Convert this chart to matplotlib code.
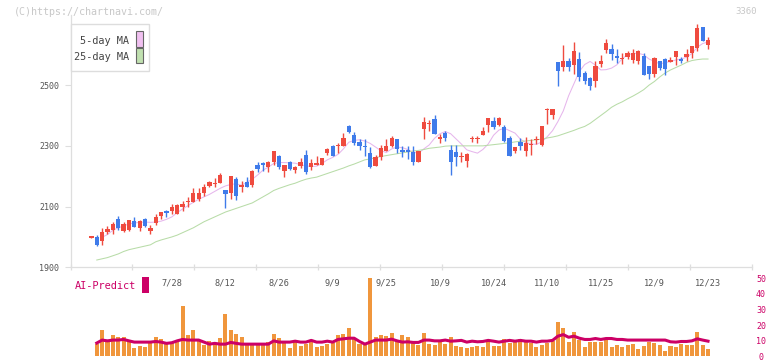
## candlestick chart with AI-Predict panel
import matplotlib
matplotlib.use('Agg')
import matplotlib.pyplot as plt
import numpy as np
from matplotlib.patches import Rectangle

plt.rcParams['font.family'] = ['DejaVu Sans Mono']

# daily prices (open/high/low/close), one per trading day
opens = [1998, 1999, 1985, 2016, 2022, 2059, 2019, 2024, 2052, 2031, 2059, 2021, 2046, 2070, 2082, 2085,
         2077, 2100, 2115, 2116, 2125, 2144, 2167, 2175, 2179, 2154, 2144, 2191, 2166, 2181, 2171, 2237,
         2240, 2229, 2246, 2268, 2218, 2246, 2219, 2235, 2270, 2231, 2238, 2237, 2276, 2300, 2298, 2301,
         2366, 2336, 2313, 2299, 2278, 2235, 2264, 2284, 2298, 2323, 2287, 2287, 2279, 2248, 2357, 2372,
         2389, 2324, 2343, 2287, 2279, 2263, 2250, 2321, 2321, 2336, 2369, 2382, 2369, 2362, 2325, 2283,
         2313, 2283, 2302, 2319, 2303, 2417, 2400, 2575, 2561, 2580, 2567, 2587, 2541, 2524, 2514, 2570,
         2617, 2620, 2597, 2585, 2594, 2583, 2580, 2597, 2564, 2537, 2579, 2587, 2577, 2592, 2587, 2594,
         2605, 2621, 2692, 2633]
highs = [2000, 2005, 2028, 2037, 2050, 2068, 2050, 2057, 2066, 2056, 2061, 2038, 2076, 2083, 2089, 2108,
         2110, 2117, 2131, 2161, 2161, 2175, 2183, 2193, 2210, 2154, 2201, 2198, 2183, 2198, 2220, 2248,
         2248, 2250, 2283, 2270, 2237, 2250, 2235, 2261, 2285, 2256, 2266, 2260, 2292, 2304, 2311, 2341,
         2370, 2344, 2322, 2322, 2296, 2270, 2303, 2323, 2333, 2323, 2298, 2301, 2298, 2283, 2394, 2386,
         2402, 2338, 2349, 2303, 2303, 2279, 2275, 2331, 2331, 2361, 2392, 2394, 2394, 2369, 2332, 2297,
         2327, 2330, 2323, 2334, 2367, 2424, 2421, 2575, 2633, 2589, 2643, 2610, 2545, 2528, 2580, 2600,
         2652, 2636, 2620, 2605, 2612, 2620, 2616, 2605, 2564, 2592, 2579, 2591, 2592, 2613, 2594, 2620,
         2630, 2702, 2692, 2660]
lows = [1997, 1971, 1975, 2011, 2011, 2024, 2016, 2021, 2032, 2021, 2034, 2011, 2038, 2060, 2065, 2077,
        2076, 2087, 2099, 2115, 2120, 2136, 2164, 2164, 2177, 2094, 2126, 2121, 2148, 2163, 2165, 2215,
        2217, 2215, 2237, 2224, 2199, 2221, 2210, 2226, 2207, 2221, 2236, 2237, 2271, 2265, 2278, 2298,
        2342, 2303, 2285, 2268, 2226, 2234, 2255, 2282, 2296, 2278, 2262, 2257, 2237, 2248, 2324, 2349,
        2338, 2311, 2317, 2204, 2235, 2248, 2231, 2312, 2309, 2336, 2347, 2355, 2367, 2314, 2265, 2275,
        2287, 2265, 2270, 2306, 2301, 2371, 2389, 2496, 2545, 2548, 2537, 2512, 2503, 2485, 2495, 2559,
        2605, 2583, 2572, 2570, 2586, 2572, 2568, 2532, 2520, 2528, 2551, 2534, 2575, 2567, 2572, 2581,
        2589, 2611, 2647, 2620]
closes = [1999, 1975, 2016, 2026, 2043, 2029, 2041, 2055, 2034, 2052, 2037, 2029, 2066, 2082, 2080, 2099,
          2106, 2109, 2117, 2145, 2144, 2164, 2180, 2176, 2204, 2143, 2201, 2134, 2167, 2165, 2217, 2224,
          2238, 2248, 2283, 2232, 2237, 2224, 2231, 2247, 2215, 2242, 2240, 2260, 2290, 2268, 2304, 2326,
          2346, 2311, 2301, 2297, 2229, 2264, 2293, 2300, 2326, 2291, 2279, 2279, 2248, 2283, 2379, 2373,
          2338, 2325, 2327, 2248, 2264, 2265, 2272, 2322, 2323, 2349, 2392, 2362, 2392, 2316, 2268, 2297,
          2301, 2311, 2303, 2320, 2367, 2418, 2421, 2548, 2580, 2561, 2613, 2528, 2514, 2498, 2564, 2581,
          2639, 2601, 2591, 2586, 2606, 2606, 2613, 2532, 2537, 2590, 2558, 2554, 2583, 2613, 2581, 2601,
          2630, 2689, 2647, 2649]

# moving averages (None where not drawn)
ma5 = [None, None, 1999, 2008, 2022, 2030, 2036, 2043, 2046, 2048, 2049, 2048, 2049, 2052, 2058, 2066,
       2080, 2092, 2103, 2114, 2124, 2132, 2140, 2150, 2160, 2168, 2173, 2175, 2170, 2180, 2190, 2204,
       2220, 2230, 2242, 2245, 2245, 2244, 2243, 2238, 2234, 2232, 2233, 2242, 2254, 2262, 2272, 2290,
       2312, 2318, 2320, 2316, 2308, 2296, 2284, 2278, 2290, 2296, 2294, 2288, 2279, 2276, 2290, 2303,
       2325, 2340, 2347, 2340, 2323, 2306, 2287, 2281, 2276, 2288, 2306, 2335, 2352, 2358, 2350, 2342,
       2322, 2311, 2306, 2305, 2313, 2330, 2350, 2380, 2415, 2465, 2505, 2545, 2568, 2578, 2566, 2550,
       2551, 2556, 2567, 2587, 2600, 2604, 2605, 2600, 2586, 2578, 2570, 2574, 2578, 2583, 2586, 2592,
       2604, 2625, 2637, 2642]
ma25 = [None, 1924, 1928, 1932, 1938, 1944, 1952, 1958, 1962, 1966, 1970, 1974, 1984, 1990, 1995, 2000,
        2006, 2014, 2022, 2030, 2040, 2050, 2058, 2066, 2074, 2082, 2088, 2094, 2100, 2106, 2112, 2122,
        2132, 2142, 2153, 2160, 2166, 2172, 2177, 2184, 2190, 2194, 2197, 2203, 2209, 2215, 2221, 2227,
        2234, 2240, 2247, 2254, 2257, 2261, 2265, 2268, 2271, 2274, 2277, 2280, 2283, 2285, 2288, 2292,
        2294, 2296, 2299, 2300, 2300, 2300, 2300, 2300, 2300, 2300, 2302, 2304, 2306, 2308, 2310, 2313,
        2315, 2316, 2318, 2320, 2322, 2326, 2329, 2333, 2339, 2345, 2351, 2358, 2364, 2374, 2387, 2400,
        2413, 2427, 2437, 2445, 2455, 2464, 2474, 2485, 2500, 2512, 2527, 2540, 2550, 2558, 2566, 2575,
        2581, 2584, 2586, 2586]

# AI-Predict panel (starts on the second day)
ai_bars = [8.2, 16.7, 10.0, 13.6, 12.3, 12.3, 9.8, 5.4, 6.7, 6.1, 8.6, 12.3, 11.1, 7.9, 8.4, 9.2,
           32.4, 13.6, 16.7, 10.0, 7.5, 9.8, 7.9, 11.7, 27.4, 16.7, 14.2, 12.3, 7.9, 7.9, 7.9, 7.9,
           9.2, 14.2, 11.7, 8.6, 5.4, 9.8, 6.7, 7.9, 9.8, 6.1, 6.7, 7.9, 8.6, 13.6, 14.2, 18.0,
           11.1, 7.9, 7.5, 50.0, 12.3, 13.6, 13.0, 14.9, 9.8, 13.6, 12.3, 8.6, 7.3, 14.9, 7.9, 7.3,
           9.2, 7.9, 12.3, 6.7, 6.1, 5.4, 6.1, 6.7, 6.1, 9.8, 6.7, 6.7, 11.1, 8.6, 9.2, 11.1,
           9.2, 8.6, 6.1, 7.3, 8.6, 9.8, 21.8, 18.0, 9.2, 15.5, 10.5, 6.1, 9.2, 9.2, 9.2, 10.5,
           6.1, 7.3, 6.1, 7.3, 7.9, 4.8, 6.7, 9.2, 8.6, 7.3, 3.6, 6.7, 6.1, 7.9, 7.3, 7.3,
           15.5, 7.3, 4.8]
ai_line = [8.6, 10.5, 10.0, 10.5, 10.5, 10.9, 10.0, 9.2, 9.2, 9.2, 9.2, 9.6, 9.2, 8.4, 8.8, 10.0,
           10.9, 10.5, 10.5, 10.5, 9.2, 7.9, 8.4, 7.9, 7.9, 9.0, 8.4, 7.9, 7.9, 7.9, 7.9, 7.9,
           7.9, 10.0, 9.2, 9.2, 9.2, 9.8, 9.2, 9.2, 10.3, 9.2, 9.2, 9.8, 9.2, 10.9, 11.3, 11.7,
           11.7, 9.6, 7.9, 9.2, 10.5, 10.5, 10.5, 11.1, 10.0, 9.2, 9.4, 9.0, 9.0, 10.5, 10.5, 10.0,
           10.0, 10.5, 9.8, 10.0, 10.3, 9.2, 9.8, 9.4, 9.6, 10.3, 9.8, 9.2, 9.8, 10.3, 9.8, 10.3,
           9.8, 9.8, 9.2, 9.8, 9.8, 10.3, 13.0, 14.0, 12.3, 13.0, 11.7, 10.9, 10.9, 11.5, 10.9, 11.5,
           11.5, 10.9, 10.9, 10.5, 10.5, 10.5, 10.5, 10.5, 10.5, 10.5, 10.5, 9.4, 9.2, 9.6, 9.6,
           10.0, 11.3, 10.5, 9.8]

date_idx = [15, 25, 35, 45, 55, 65, 75, 85, 95, 105, 115]
date_labels = ['7/28', '8/12', '8/26', '9/9', '9/25', '10/9', '10/24', '11/10', '11/25', '12/9', '12/23']

W, H = 772, 361
up_col, dn_col = '#ef4b3f', '#3f7bea'
grid_col = '#dedede'
txt_col = '#555555'
crimson = '#cc0066'

fig = plt.figure(figsize=(W / 100, H / 100), dpi=100, facecolor='w')

def box(l, t, r, b):
    return [l / W, 1 - b / H, (r - l) / W, (b - t) / H]

# lower panel first so the price axes (and its date labels) sit on top
ax2 = fig.add_axes(box(70.5, 278.3, 752, 359))
ax = fig.add_axes(box(70.5, 15, 752, 267.3))
ax.patch.set_visible(False)
ax2.patch.set_visible(False)

x = np.arange(len(closes))
o = np.array(opens); c = np.array(closes)
cols = [up_col if cc >= oo else dn_col for oo, cc in zip(o, c)]
ax.vlines(x, lows, highs, colors=cols, lw=1.0, zorder=3)
bot = np.minimum(o, c)
hgt = np.maximum(np.abs(c - o), 4)
ax.bar(x, hgt, bottom=bot, width=0.8, color=cols, zorder=4)

xm5 = [i for i, v in enumerate(ma5) if v is not None]
ax.plot(xm5, [ma5[i] for i in xm5], color='#e6b6ec', lw=0.75, zorder=2)
xm25 = [i for i, v in enumerate(ma25) if v is not None]
ax.plot(xm25, [ma25[i] for i in xm25], color='#b8dca8', lw=0.75, zorder=2)

xlim = (-3.9, 123.2)
ax.set_xlim(*xlim)
ax.set_ylim(1900, 2731)
for s in ['top', 'right']:
    ax.spines[s].set_visible(False)
for s in ['left', 'bottom']:
    ax.spines[s].set_color(grid_col)
    ax.spines[s].set_linewidth(0.9)
ax.set_yticks([1900, 2100, 2300, 2500])
ax.tick_params(axis='y', length=4, color=grid_col, labelcolor=txt_col, labelsize=6, pad=4)
ax.set_xticks(date_idx)
ax.set_xticklabels(date_labels)
ax.tick_params(axis='x', which='major', length=0, labelcolor=txt_col, labelsize=6.2, pad=8)
ax.set_xticks(np.linspace(xlim[0], xlim[1], 12), minor=True)
ax.tick_params(axis='x', which='minor', length=5, width=0.9, color=grid_col, direction='inout')

xb = np.arange(1, len(ai_bars) + 1)
ax2.bar(xb, ai_bars, width=0.75, color='#f0963c', zorder=2)
ax2.plot(xb, ai_line, color=crimson, lw=2.2, zorder=3)
ax2.set_xlim(*xlim)
ax2.set_ylim(-1.6, 50)
for s in ax2.spines.values():
    s.set_visible(False)
ax2.set_xticks([])
ax2.yaxis.tick_right()
ax2.set_yticks([0, 10, 20, 30, 40, 50])
ax2.tick_params(axis='y', length=0, labelcolor=crimson, labelsize=6, pad=6.5)
for lab in ax2.get_yticklabels():
    lab.set_horizontalalignment('center')

def fx(px):
    return px / W

def fy(py):
    return 1 - py / H

# legend box
fig.patches.append(Rectangle((fx(70.5), fy(71)), (148.5 - 70.5) / W, (71 - 24) / H,
                             transform=fig.transFigure, facecolor='w', edgecolor='#dddddd', lw=1, zorder=5))
fig.text(fx(129.5), fy(41), '5-day MA', ha='right', va='center', fontsize=7.4, color='#444444', zorder=6)
fig.text(fx(129.5), fy(57), '25-day MA', ha='right', va='center', fontsize=7.4, color='#444444', zorder=6)
fig.patches.append(Rectangle((fx(136), fy(46.5)), 6.5 / W, 15 / H, transform=fig.transFigure,
                             facecolor='#f0c0f0', edgecolor='#666666', lw=0.8, zorder=6))
fig.patches.append(Rectangle((fx(136), fy(63)), 6.5 / W, 15 / H, transform=fig.transFigure,
                             facecolor='#c0e0b0', edgecolor='#666666', lw=0.8, zorder=6))

fig.text(fx(14), fy(12), '(C)https://chartnavi.com/', ha='left', va='center', fontsize=7.2, color='#c8c8c8')
fig.text(fx(757), fy(12), '3360', ha='right', va='center', fontsize=6.5, color='#c8c8c8')

fig.text(fx(75), fy(286), 'AI-Predict', ha='left', va='center', fontsize=7.4, color=crimson)
fig.patches.append(Rectangle((fx(142.3), fy(292.7)), 6.4 / W, 16 / H, transform=fig.transFigure,
                             facecolor=crimson, edgecolor='none'))

fig.savefig('out.png', dpi=100, facecolor='w')
